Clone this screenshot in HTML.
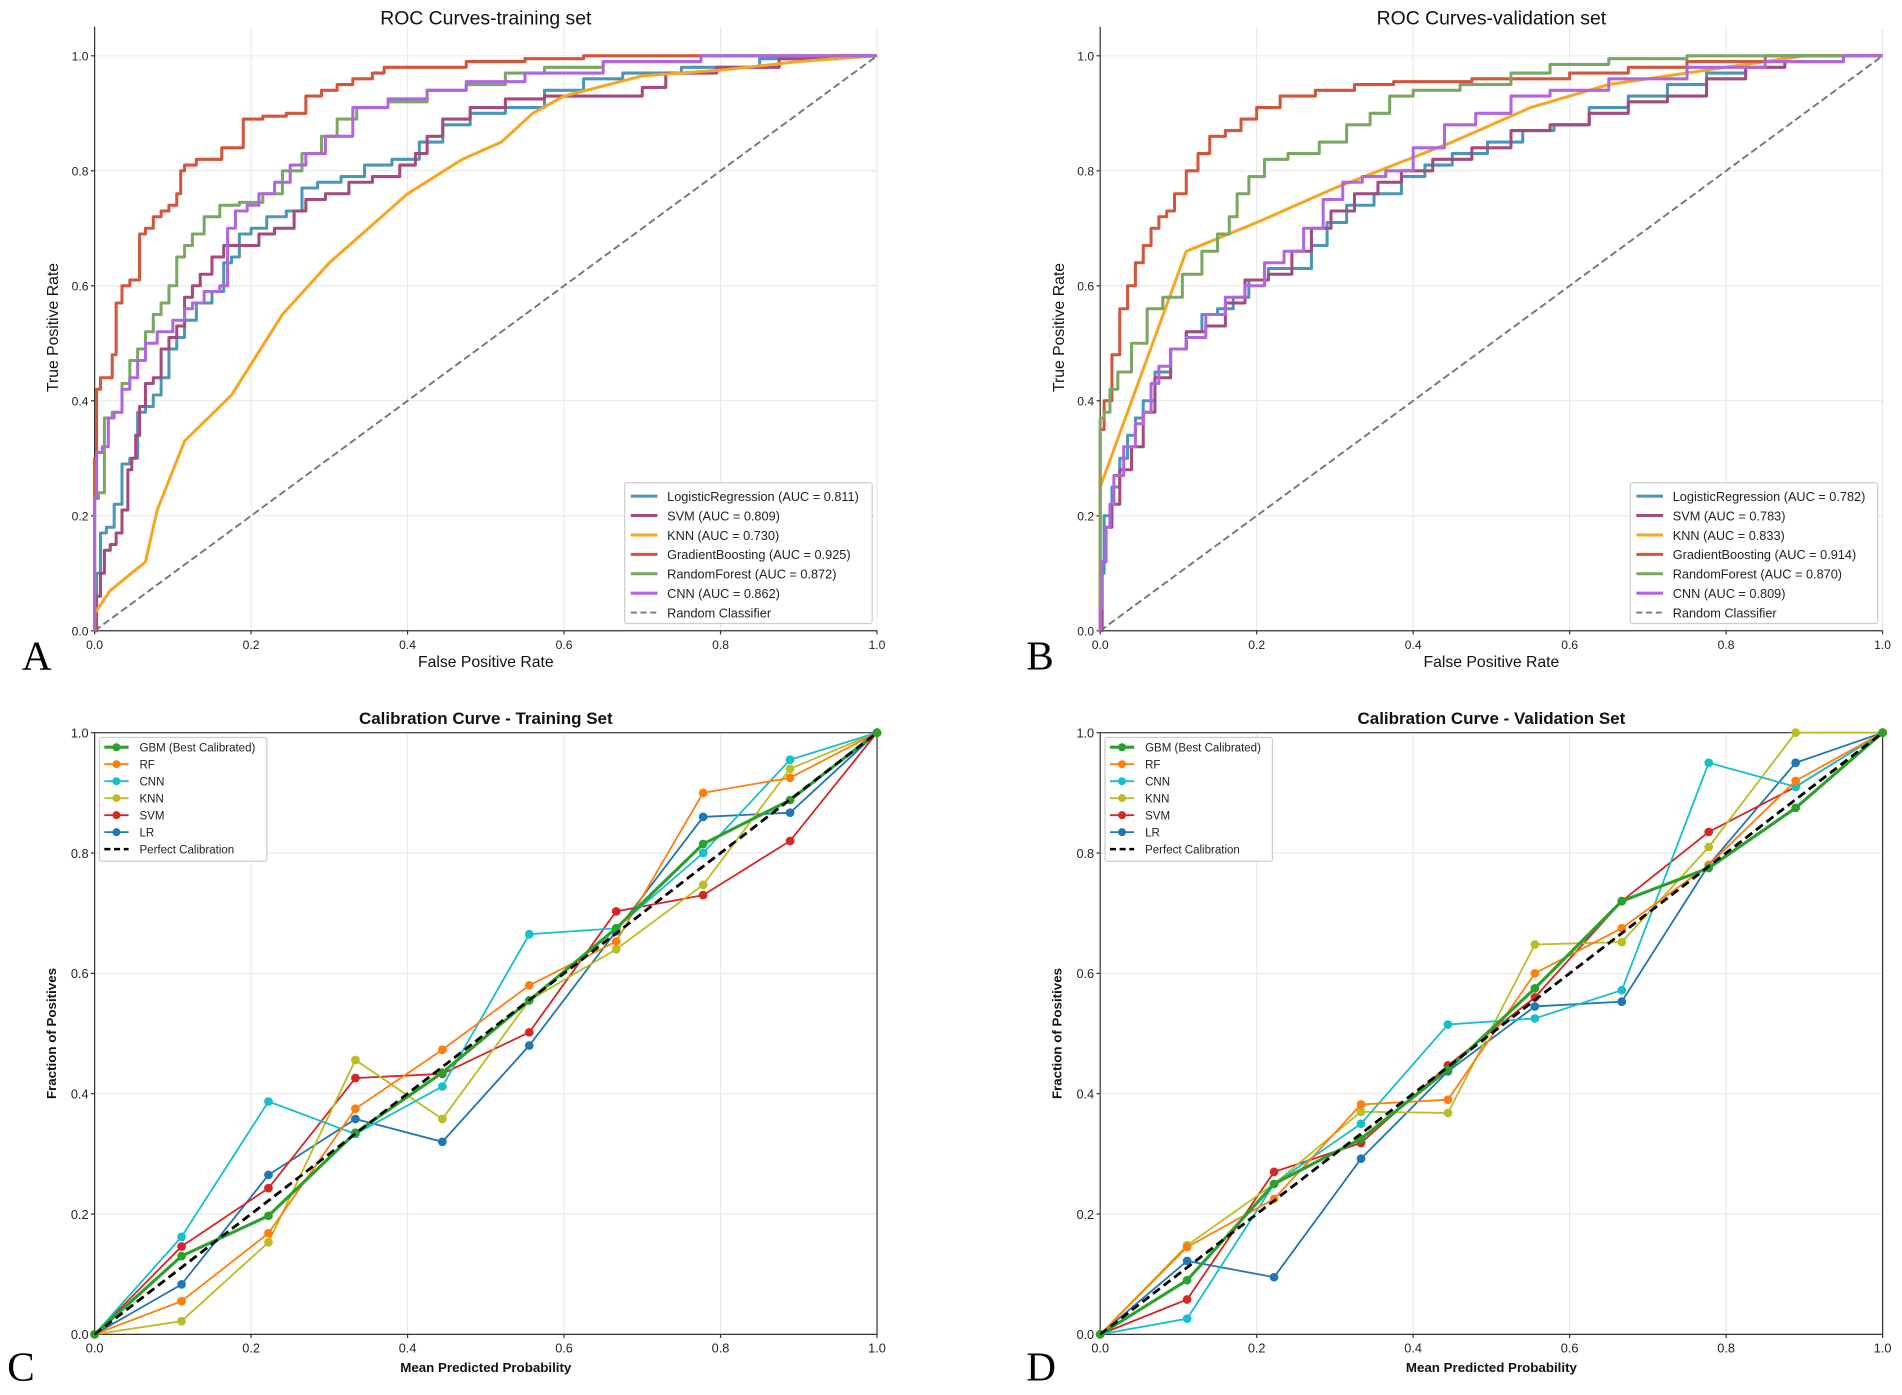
<!DOCTYPE html>
<html><head><meta charset="utf-8"><style>
html,body{margin:0;padding:0;background:#fff;}
svg{display:block;font-family:"Liberation Sans",sans-serif;}
</style></head><body>
<svg id="fig" width="1902" height="1395" viewBox="0 0 1568 1150" preserveAspectRatio="none" xmlns="http://www.w3.org/2000/svg"></svg>
<script>
const rocNames=["LogisticRegression","SVM","KNN","GradientBoosting","RandomForest","CNN"];
const rocColors=["#4a96b8","#a34a7e","#f5a623","#d2553c","#7aa862","#b066e0"];
const aucTrain=["0.811","0.809","0.730","0.925","0.872","0.862"];
const aucVal=["0.782","0.783","0.833","0.914","0.870","0.809"];
const trLR=[[0,0],[.005,.1],[.01,.17],[.02,.18],[.03,.22],[.04,.29],[.05,.3],[.06,.38],[.07,.39],[.08,.41],[.09,.44],[.1,.49],[.11,.51],[.12,.54],[.14,.57],[.16,.59],[.17,.64],[.18,.65],[.19,.69],[.21,.7],[.23,.72],[.26,.73],[.27,.77],[.3,.78],[.33,.79],[.36,.81],[.4,.82],[.43,.85],[.46,.88],[.5,.9],[.55,.91],[.6,.94],[.65,.96],[.7,.97],[.8,.98],[.9,.995],[1,1]];
const trSVM=[[0,0],[.005,.06],[.01,.1],[.015,.14],[.025,.15],[.03,.17],[.04,.21],[.045,.28],[.05,.3],[.055,.34],[.06,.39],[.07,.43],[.08,.44],[.09,.49],[.1,.51],[.11,.53],[.12,.58],[.13,.6],[.14,.62],[.16,.65],[.17,.67],[.2,.67],[.22,.69],[.24,.7],[.27,.73],[.27,.75],[.32,.76],[.33,.78],[.38,.79],[.4,.81],[.42,.83],[.43,.86],[.46,.89],[.5,.91],[.55,.925],[.6,.93],[.68,.93],[.72,.945],[.74,.97],[.85,.98],[.9,.995],[1,1]];
const trKNN=[[0,0],[0,.03],[.02,.07],[.065,.12],[.08,.21],[.115,.33],[.175,.41],[.24,.55],[.3,.64],[.4,.76],[.47,.82],[.52,.85],[.56,.9],[.6,.93],[.7,.965],[.8,.975],[.9,.99],[.95,.995],[1,1]];
const trGB=[[0,0],[0,.3],[.005,.42],[.01,.44],[.02,.44],[.025,.48],[.03,.57],[.04,.6],[.05,.61],[.055,.61],[.06,.69],[.07,.7],[.08,.72],[.09,.73],[.1,.74],[.11,.76],[.11,.8],[.12,.81],[.14,.82],[.16,.82],[.165,.84],[.19,.84],[.19,.89],[.2,.89],[.23,.895],[.26,.9],[.28,.93],[.3,.94],[.32,.95],[.34,.96],[.37,.97],[.37,.98],[.45,.98],[.5,.99],[.6,.995],[.65,1],[1,1]];
const trRF=[[0,0],[0,.23],[.01,.24],[.015,.37],[.03,.38],[.04,.43],[.05,.47],[.06,.49],[.07,.52],[.08,.55],[.09,.57],[.1,.6],[.11,.65],[.12,.67],[.13,.69],[.15,.72],[.17,.74],[.2,.745],[.23,.76],[.25,.8],[.28,.83],[.3,.86],[.32,.89],[.35,.91],[.4,.92],[.45,.94],[.5,.95],[.55,.97],[.6,.98],[.7,.99],[.85,1],[1,1]];
const trCNN=[[0,0],[0,.23],[.005,.31],[.015,.32],[.02,.37],[.03,.38],[.04,.42],[.05,.44],[.06,.47],[.07,.5],[.09,.52],[.11,.54],[.12,.56],[.13,.57],[.15,.59],[.17,.6],[.17,.7],[.19,.73],[.2,.74],[.22,.76],[.24,.78],[.26,.81],[.28,.83],[.31,.86],[.35,.91],[.4,.925],[.45,.94],[.5,.955],[.6,.97],[.7,.99],[.85,1],[1,1]];
const vaLR=[[0,0],[0,.1],[.01,.2],[.02,.25],[.03,.3],[.04,.34],[.05,.37],[.06,.4],[.08,.45],[.1,.49],[.12,.52],[.14,.55],[.16,.56],[.18,.58],[.2,.61],[.23,.63],[.26,.63],[.28,.67],[.3,.71],[.33,.74],[.37,.76],[.4,.79],[.43,.81],[.47,.83],[.52,.85],[.56,.87],[.6,.88],[.65,.91],[.7,.93],[.75,.95],[.8,.97],[.85,.99],[.9,1],[1,1]];
const vaSVM=[[0,0],[.005,.12],[.01,.18],[.02,.22],[.03,.28],[.05,.32],[.06,.38],[.08,.44],[.1,.49],[.12,.52],[.15,.53],[.17,.57],[.2,.61],[.23,.62],[.26,.66],[.28,.7],[.31,.73],[.34,.76],[.37,.78],[.4,.8],[.45,.82],[.5,.84],[.55,.87],[.6,.88],[.65,.9],[.7,.92],[.75,.93],[.8,.96],[.85,.98],[.9,.99],[1,1]];
const vaKNN=[[0,0],[0,.25],[.11,.66],[.2,.71],[.3,.77],[.45,.85],[.55,.91],[.65,.95],[.8,.98],[.9,1],[1,1]];
const vaGB=[[0,0],[0,.35],[.01,.4],[.02,.48],[.03,.56],[.04,.6],[.05,.64],[.06,.67],[.07,.7],[.08,.72],[.09,.73],[.1,.76],[.12,.8],[.13,.83],[.15,.86],[.17,.87],[.19,.89],[.21,.91],[.25,.93],[.3,.94],[.35,.95],[.4,.955],[.55,.96],[.65,.97],[.7,.98],[.8,.99],[.9,1],[1,1]];
const vaRF=[[0,0],[0,.37],[.01,.38],[.015,.42],[.03,.45],[.05,.5],[.07,.56],[.09,.58],[.12,.62],[.14,.66],[.16,.69],[.17,.72],[.18,.76],[.2,.79],[.22,.82],[.26,.83],[.3,.85],[.33,.88],[.36,.9],[.38,.93],[.42,.94],[.5,.95],[.55,.97],[.6,.985],[.7,.995],[.8,1],[1,1]];
const vaCNN=[[0,0],[0,.04],[.005,.12],[.01,.18],[.015,.22],[.02,.27],[.04,.32],[.05,.36],[.06,.38],[.07,.43],[.08,.46],[.1,.49],[.12,.51],[.15,.55],[.17,.58],[.2,.6],[.22,.64],[.25,.66],[.27,.7],[.3,.75],[.32,.78],[.35,.79],[.38,.8],[.42,.84],[.46,.88],[.5,.9],[.55,.93],[.6,.94],[.7,.96],[.8,.98],[.9,.99],[1,1]];
const calX=[0,1/9,2/9,3/9,4/9,5/9,6/9,7/9,8/9,1];
const calNames=["GBM (Best Calibrated)","RF","CNN","KNN","SVM","LR"];
const calColors=["#2ca02c","#ff7f0e","#17becf","#bcbd22","#d62728","#1f77b4"];
const cTrGBM=[0,.13,.197,.335,.435,.555,.675,.815,.888,1];
const cTrRF=[0,.055,.168,.375,.473,.58,.653,.9,.925,1];
const cTrCNN=[0,.162,.387,.333,.412,.665,.675,.80,.955,1];
const cTrKNN=[0,.022,.153,.456,.358,.555,.64,.747,.94,1];
const cTrSVM=[0,.146,.243,.426,.433,.502,.703,.73,.82,1];
const cTrLR=[0,.083,.265,.358,.32,.48,.67,.86,.867,1];
const cVaGBM=[0,.09,.25,.325,.44,.575,.72,.775,.875,1];
const cVaRF=[0,.145,.225,.382,.39,.60,.675,.78,.92,1];
const cVaCNN=[0,.026,.25,.35,.515,.525,.572,.95,.91,1];
const cVaKNN=[0,.148,.25,.37,.368,.648,.652,.81,1.0,1];
const cVaSVM=[0,.058,.27,.318,.447,.56,.72,.835,.91,1];
const cVaLR=[0,.122,.095,.292,.437,.545,.553,.78,.95,1];
const ticks=["0.0","0.2","0.4","0.6","0.8","1.0"];

const NS="http://www.w3.org/2000/svg";
const svg=document.getElementById('fig');
function el(tag,attrs,parent,text){const e=document.createElementNS(NS,tag);for(const k in attrs)e.setAttribute(k,attrs[k]);if(text!==undefined)e.textContent=text;(parent||svg).appendChild(e);return e;}

function axes(x0,x1,y0,y1,top){
  return {sx:v=>x0+(x1-x0)*v, sy:v=>y0-(y0-y1)*v, x0,x1,y0,y1,top};
}
function drawFrame(a,g,full,tickSize){
  for(let i=0;i<6;i++){const v=i/5;
    el('line',{x1:a.sx(v),x2:a.sx(v),y1:a.top,y2:a.y0,stroke:'#e6e6e6','stroke-width':0.8},g);
    el('line',{x1:a.x0,x2:a.x1,y1:a.sy(v),y2:a.sy(v),stroke:'#e6e6e6','stroke-width':0.8},g);
  }
  for(let i=0;i<6;i++){const v=i/5;
    const t=el('text',{x:a.sx(v),y:a.y0+15,'font-size':tickSize,'text-anchor':'middle',fill:'#222'},g,ticks[i]);
    
    
    const u=el('text',{x:a.x0-5,y:a.sy(v)+4,'font-size':tickSize,'text-anchor':'end',fill:'#222'},g,ticks[i]);
    
    
    el('line',{x1:a.sx(v),x2:a.sx(v),y1:a.y0,y2:a.y0+3,stroke:'#333'},g);
    el('line',{x1:a.x0-3,x2:a.x0,y1:a.sy(v),y2:a.sy(v),stroke:'#333'},g);
  }
  el('line',{x1:a.x0,x2:a.x0,y1:a.top,y2:a.y0,stroke:'#333','stroke-width':1},g);
  el('line',{x1:a.x0,x2:a.x1,y1:a.y0,y2:a.y0,stroke:'#333','stroke-width':1},g);
  if(full){
    el('line',{x1:a.x1,x2:a.x1,y1:a.top,y2:a.y0,stroke:'#333','stroke-width':1},g);
    el('line',{x1:a.x0,x2:a.x1,y1:a.top,y2:a.top,stroke:'#333','stroke-width':1},g);
  }
}
function stepPoints(a,c){
  const pts=[[a.sx(c[0][0]),a.sy(c[0][1])]];
  for(let k=1;k<c.length;k++){
    const px=a.sx(c[k-1][0]),cx=a.sx(c[k][0]),py=a.sy(c[k-1][1]),cy=a.sy(c[k][1]);
    const mx=(px+cx)/2;
    pts.push([mx,py]);pts.push([mx,cy]);pts.push([cx,cy]);
  }
  return pts.map(p=>p[0].toFixed(2)+','+p[1].toFixed(2)).join(' ');
}
function rocPanel(x0,x1,title,curves,aucs,letter,lx,name){
  const g=el('g',{});
  
  
  const a=axes(x0,x1,520,46,22);
  drawFrame(a,g,false,10);
  const d=el('line',{x1:a.sx(0),y1:a.sy(0),x2:a.sx(1),y2:a.sy(1),stroke:'#777','stroke-width':1.6,'stroke-dasharray':'6,3'},g);
  
  
  curves.forEach((c,i)=>{
    const pts=(i===2)?c.map(q=>a.sx(q[0])+','+a.sy(q[1])).join(' '):stepPoints(a,c);
    const p=el('polyline',{points:pts,fill:'none',stroke:rocColors[i],'stroke-width':2.5,'stroke-linejoin':'round'},g);
    
    
  });
  const t=el('text',{x:(x0+x1)/2,y:20,'font-size':16,'text-anchor':'middle',fill:'#111'},g,title);
  
  
  const xl=el('text',{x:(x0+x1)/2,y:550,'font-size':13,'text-anchor':'middle',fill:'#111'},g,'False Positive Rate');
  
  
  const yl=el('text',{x:0,y:0,'font-size':13,'text-anchor':'middle',fill:'#111',transform:`translate(${x0-30},270) rotate(-90)`},g,'True Positive Rate');
  
  
  const L=el('g',{},g);
  
  
  el('rect',{x:x1-208,y:398,width:204,height:116,fill:'#fff',stroke:'#ccc','stroke-width':1,rx:2},L);
  for(let i=0;i<7;i++){
    const y=409+i*16;
    const lab=i<6?`${rocNames[i]} (AUC = ${aucs[i]})`:'Random Classifier';
    el('line',{x1:x1-203,x2:x1-181,y1:y,y2:y,stroke:i<6?rocColors[i]:'#777','stroke-width':i<6?2.5:1.6,'stroke-dasharray':i<6?'none':'5,3'},L);
    const tt=el('text',{x:x1-173,y:y+4,'font-size':10.5,fill:'#222'},L,lab);
    
    
  }
  const le=el('text',{x:lx,y:552,'font-size':34,'font-family':'Liberation Serif, serif',fill:'#000'},g,letter);
  
  
}
function calPanel(x0,x1,title,series,letter,lx,name){
  const g=el('g',{});
  
  
  const a=axes(x0,x1,1100,604,604);
  drawFrame(a,g,true,10.5);
  const pc=el('line',{x1:a.sx(0),y1:a.sy(0),x2:a.sx(1),y2:a.sy(1),stroke:'#000','stroke-width':2.2,'stroke-dasharray':'7,4'},g);
  
  
  for(let i=series.length-1;i>=0;i--){
    const s=series[i];
    const p=el('polyline',{points:s.map((v,k)=>a.sx(calX[k])+','+a.sy(v)).join(' '),fill:'none',stroke:calColors[i],'stroke-width':i===0?2.6:1.5},g);
    
    
    s.forEach((v,k)=>{
      const c=el('circle',{cx:a.sx(calX[k]),cy:a.sy(v),r:3.6,fill:calColors[i]},g);
      
      
    });
  }
  el('line',{x1:a.sx(0),y1:a.sy(0),x2:a.sx(1),y2:a.sy(1),stroke:'#000','stroke-width':2.2,'stroke-dasharray':'7,4',opacity:0.9},g);
  const t=el('text',{x:(x0+x1)/2,y:597,'font-size':14,'font-weight':'bold','text-anchor':'middle',fill:'#111'},g,title);
  
  
  const xl=el('text',{x:(x0+x1)/2,y:1131,'font-size':11,'font-weight':'bold','text-anchor':'middle',fill:'#111'},g,'Mean Predicted Probability');
  
  
  const yl=el('text',{x:0,y:0,'font-size':11,'font-weight':'bold','text-anchor':'middle',fill:'#111',transform:`translate(${x0-32},852) rotate(-90)`},g,'Fraction of Positives');
  
  
  const L=el('g',{},g);
  
  
  el('rect',{x:x0+4,y:608,width:138,height:102,fill:'#fff',stroke:'#ccc','stroke-width':1,rx:2},L);
  for(let i=0;i<7;i++){
    const y=616+i*14;
    if(i<6){
      el('line',{x1:x0+8,x2:x0+28,y1:y,y2:y,stroke:calColors[i],'stroke-width':i===0?2.6:1.5},L);
      el('circle',{cx:x0+18,cy:y,r:3.3,fill:calColors[i]},L);
    } else el('line',{x1:x0+8,x2:x0+28,y1:y,y2:y,stroke:'#000','stroke-width':2,'stroke-dasharray':'5,3'},L);
    const tt=el('text',{x:x0+37,y:y+3.5,'font-size':9.5,fill:'#222'},L,i<6?calNames[i]:'Perfect Calibration');
    
    
  }
  const le=el('text',{x:lx,y:1138,'font-size':34,'font-family':'Liberation Serif, serif',fill:'#000'},g,letter);
  
  
}
rocPanel(78,723,'ROC Curves-training set',[trLR,trSVM,trKNN,trGB,trRF,trCNN],aucTrain,'A',18,'roc-training-panel');
rocPanel(907,1552,'ROC Curves-validation set',[vaLR,vaSVM,vaKNN,vaGB,vaRF,vaCNN],aucVal,'B',846,'roc-validation-panel');
calPanel(78,723,'Calibration Curve - Training Set',[cTrGBM,cTrRF,cTrCNN,cTrKNN,cTrSVM,cTrLR],'C',6,'calibration-training-panel');
calPanel(907,1552,'Calibration Curve - Validation Set',[cVaGBM,cVaRF,cVaCNN,cVaKNN,cVaSVM,cVaLR],'D',846,'calibration-validation-panel');
</script>
</body></html>
